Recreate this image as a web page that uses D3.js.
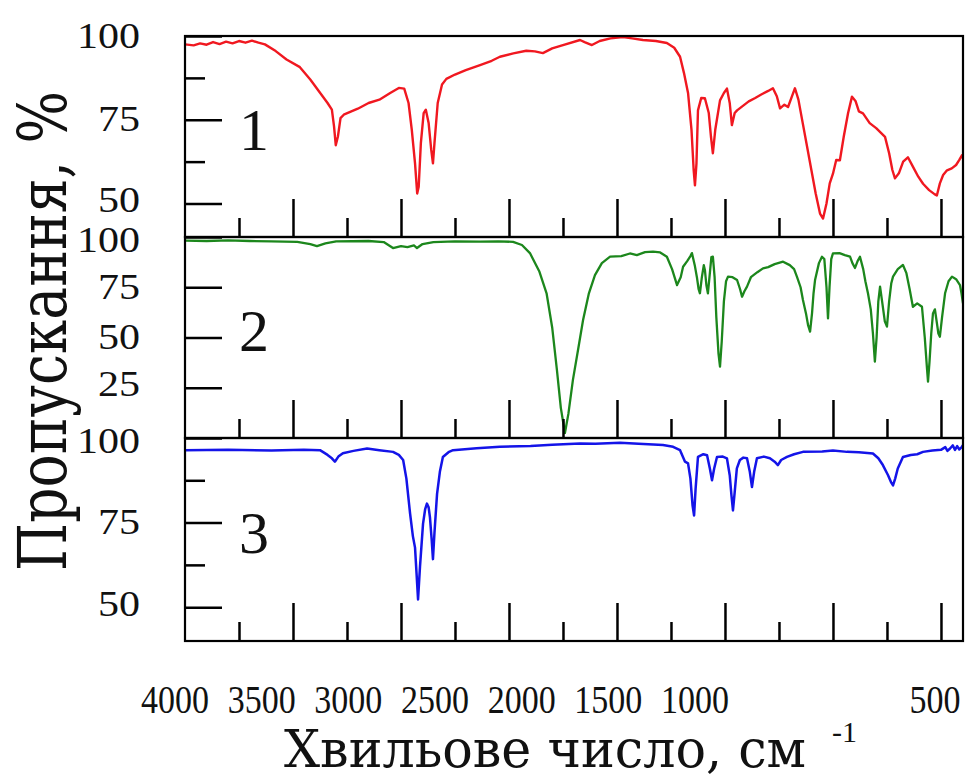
<!DOCTYPE html>
<html><head><meta charset="utf-8">
<script src="https://cdn.jsdelivr.net/npm/d3@7"></script>
<style>html,body{margin:0;padding:0;background:#fff;}</style>
</head><body><div id="chart"></div>
<script>
// ---------- DATA ----------
const redWavenumber = [4000,3960,3930,3900,3870,3840,3810,3780,3750,3720,3690,3660,3630,3580,3530,3468,3420,3380,3340,3320,3310,3302,3292,3280,3265,3200,3150,3100,3050,3010,2985,2965,2950,2935,2925,2918,2908,2895,2885,2872,2860,2852,2845,2830,2810,2790,2750,2700,2634,2580,2542,2480,2420,2380,2343,2300,2250,2171,2150,2116,2080,2030,1972,1930,1880,1820,1769,1735,1708,1690,1671,1655,1645,1639,1632,1625,1610,1593,1575,1565,1556,1545,1523,1505,1491,1478,1468,1455,1444,1420,1390,1360,1330,1300,1278,1260,1245,1225,1208,1190,1176,1160,1140,1120,1100,1080,1060,1046,1030,1015,1000,985,968,950,930,912,895,880,861,830,800,759,740,725,713,695,675,653,630,605,583,555,530,519,505,490,472,450,430,415,403,398];
const redTransmittance = [97.5,97.2,97.8,97.4,98.2,97.6,98.3,97.8,98.5,98.0,98.6,98.0,97.5,95.5,93.0,90.7,87.0,83.5,80.0,78.0,73,67.4,70,75.5,76.5,78.3,80,81.0,83.0,84.5,84.3,80,72,62,53,55,68,77,78,74,66,62,68,80,85.5,87.2,88.5,89.8,91.3,92.6,93.8,94.8,95.6,95.4,94.9,96.3,97.3,98.8,98.2,97.3,98.5,99.3,99.7,99.3,98.8,98.5,97.9,96.5,93.8,89,83,72,60,55.4,62,77.8,81.5,81.4,77,70,65,72,80.8,83,84.3,80,73.4,77,77.8,79,80.5,81.5,82.6,83.6,84.4,82,78.4,79.5,78.8,82,84.4,81,74,67,60,53,47,45.5,50,56,58.9,63,62.9,70,77,81.9,80.5,77.5,76.9,74,72.5,69.9,65,60,57.5,59,62.5,63.8,61,58,55.9,54,52.8,52.4,56,58.5,59.9,60.5,61.5,63,64.4,63.5];

const greenWavenumber = [4000,3900,3800,3700,3600,3480,3420,3389,3350,3300,3150,3080,3037,3000,2970,2940,2926,2900,2850,2750,2634,2550,2481,2440,2403,2360,2326,2300,2278,2260,2241,2225,2204,2180,2157,2130,2102,2070,2032,1980,1940,1908,1870,1833,1800,1769,1745,1722,1705,1694,1675,1660,1653,1640,1630,1622,1616,1607,1598,1593,1586,1579,1570,1563,1556,1548,1540,1530,1523,1515,1505,1495,1486,1465,1444,1430,1421,1410,1398,1380,1350,1324,1300,1270,1231,1200,1180,1167,1150,1139,1125,1115,1106,1097,1090,1083,1065,1051,1040,1030,1023,1016,1008,1000,970,945,921,910,898,886,875,860,850,838,825,815,806,798,790,782,770,760,750,740,730,722,700,676,660,645,630,610,588,575,565,560,553,545,537,528,520,512,505,495,481,465,449,430,412,405,398];
const greenTransmittance = [98.2,98.0,98.3,98.0,97.8,97.6,96.5,95.5,96.8,97.8,98.0,97.5,94.5,95.5,95.0,95.8,94.5,96.5,97.5,97.8,97.7,97.8,97.6,96.0,92,83,72,55,33.8,15,2.5,12,28.9,44,58.7,72,81,87,90.2,90.5,91.8,91,92.5,92.7,92.3,90.2,84,76.1,80,85.2,88,90.5,92,86,80,74,72,80,86,83.6,76,72,82,90,90.2,80,60,42,35.5,48,68,78,80.3,80,78.6,74,70.3,73,75.3,80,82.5,84.4,85,86.5,87.7,86,84,80.3,75,68.7,62,56,52.9,62,72,78.6,87,90.2,89,75,59.5,75,89,91.9,92,91,90.2,87,84.6,88,90.2,84,78,72,64,52,38,50,68,75.3,66,58,55.4,68,77,80.3,84,86.1,82,74,65.3,67,65.3,50,35,28,38,52,62,64,58,52,50.4,60,72,78,80.3,79,76.1,72,67];

const blueWavenumber = [4000,3800,3600,3450,3375,3340,3320,3306,3290,3269,3220,3157,3100,3037,3010,2990,2975,2958,2945,2935,2928,2921,2912,2898,2888,2880,2872,2866,2858,2852,2845,2833,2820,2806,2780,2759,2650,2542,2400,2300,2171,2100,1986,1900,1787,1740,1708,1685,1671,1660,1650,1643,1636,1625,1600,1583,1570,1560,1550,1537,1510,1491,1478,1470,1463,1455,1445,1431,1415,1398,1385,1375,1365,1352,1320,1292,1270,1255,1240,1213,1180,1139,1050,1000,935,880,815,790,769,745,730,722,712,700,676,640,610,583,540,500,480,470,458,445,435,425,415,403,398];
const blueTransmittance = [96.4,96.5,96.3,96.5,96.4,95,94,93,94.5,95.5,96.2,96.9,96.4,95.9,95,93.5,88,77.7,71,67.6,60,52.3,62,74.6,79,80.6,79.5,76.6,70,64.2,72,83.5,90,94.4,95.8,96.4,97.0,97.4,97.6,98.0,98.4,98.3,98.6,98.3,97.9,97.4,96.4,93,92.5,88,80,77.1,85,94.4,95.2,94.9,91,87.5,91,94.4,94.5,94,89,83,78.6,84,91,93.5,94.2,94,90,85.5,90,94,94.5,94,93,92,93.5,94.4,95.2,95.9,96,96.3,95.9,95.8,95.4,94,92,89,86.8,86,88,91,94.4,95,95.2,95.9,96.3,96.5,97.3,96.2,96.9,97.8,96.5,97.6,96.6,97.4,97.9];

const panelLabels = ["1", "2", "3"];
const yMajorTicks1 = [100, 75, 50];
const yMinorTicks1 = [87.5, 62.5];
const yMajorTicks2 = [100, 75, 50, 25];
const yMajorTicks3 = [100, 75, 50];
const yMinorTicks3 = [87.5, 62.5];
const xMajorTicks = [3500, 3000, 2500, 2000, 1500, 1000, 500];
const xMinorTicks = [3750, 3250, 2750, 2250, 1750, 1250, 750];
const xTickLabels = [4000, 3500, 3000, 2500, 2000, 1500, 1000, 500];
const xTitle = "Хвильове число, см";
const xTitleSup = "-1";
const yTitle = "Пропускання, %";

// ---------- DRAW ----------
const W = 979, H = 781;
const FONT = "'Liberation Serif','DejaVu Serif Condensed','DejaVu Serif',serif";
const CYR_FONT = "'DejaVu Serif Condensed','DejaVu Serif','Liberation Serif',serif";
const svg = d3.select("#chart").append("svg")
  .attr("width", W).attr("height", H)
  .style("font-family", FONT);

const left = 185, right = 963;
const x = d3.scaleLinear().domain([4000, 398]).range([left, right]);

const panels = [
  {top: 36, bottom: 237, domain: [40, 100], major: yMajorTicks1, minor: yMinorTicks1,
   wn: redWavenumber, t: redTransmittance, color: "#f01820", label: panelLabels[0], width: 2.4},
  {top: 237, bottom: 438, domain: [0, 100], major: yMajorTicks2, minor: [],
   wn: greenWavenumber, t: greenTransmittance, color: "#1c871c", label: panelLabels[1], width: 2.3},
  {top: 438, bottom: 641, domain: [40, 100], major: yMajorTicks3, minor: yMinorTicks3,
   wn: blueWavenumber, t: blueTransmittance, color: "#1414e8", label: panelLabels[2], width: 2.5}
];

panels.forEach((p, i) => {
  const y = d3.scaleLinear().domain(p.domain).range([p.bottom, p.top]);
  const g = svg.append("g");

  const clipId = "clip" + i;
  svg.append("clipPath").attr("id", clipId).append("rect")
    .attr("x", left).attr("y", p.top).attr("width", right - left).attr("height", p.bottom - p.top);

  const pts = p.wn.map((w, k) => [w, p.t[k]]);
  g.append("path").datum(pts)
    .attr("clip-path", `url(#${clipId})`)
    .attr("fill", "none").attr("stroke", p.color)
    .attr("stroke-width", p.width).attr("stroke-linejoin", "round")
    .attr("d", d3.line().x(d => x(d[0])).y(d => y(d[1])));

  // left major ticks with labels
  const ya = g.append("g").attr("transform", `translate(${left},0)`)
    .call(d3.axisLeft(y).tickValues(p.major).tickSizeInner(-37).tickSizeOuter(0).tickPadding(45));
  ya.select(".domain").remove();
  ya.selectAll("line").attr("stroke", "#000").attr("stroke-width", 2.5);
  const lowest = d3.min(p.major);
  ya.selectAll("text").attr("font-size", 35).attr("font-family", FONT).attr("fill", "#111")
    .attr("textLength", d => String(d).length * 21).attr("lengthAdjust", "spacingAndGlyphs")
    .attr("y", d => (d === 100 && i > 0) ? 3 : (d === lowest ? -3 : 0));

  if (p.minor.length) {
    const ym = g.append("g").attr("transform", `translate(${left},0)`)
      .call(d3.axisLeft(y).tickValues(p.minor).tickSizeInner(-20).tickSizeOuter(0).tickFormat(""));
    ym.select(".domain").remove();
    ym.selectAll("line").attr("stroke", "#000").attr("stroke-width", 2.5);
  }

  // bottom ticks (inward)
  const xa = g.append("g").attr("transform", `translate(0,${p.bottom})`)
    .call(d3.axisBottom(x).tickValues(xMajorTicks).tickSizeInner(-38).tickSizeOuter(0).tickFormat(""));
  xa.select(".domain").remove();
  xa.selectAll("line").attr("stroke", "#000").attr("stroke-width", 2.5);
  const xm = g.append("g").attr("transform", `translate(0,${p.bottom})`)
    .call(d3.axisBottom(x).tickValues(xMinorTicks).tickSizeInner(-19).tickSizeOuter(0).tickFormat(""));
  xm.select(".domain").remove();
  xm.selectAll("line").attr("stroke", "#000").attr("stroke-width", 2.5);

  // frame
  g.append("rect").attr("x", left).attr("y", p.top)
    .attr("width", right - left).attr("height", p.bottom - p.top)
    .attr("fill", "none").attr("stroke", "#000").attr("stroke-width", 2.2);

  // panel number
  g.append("text").attr("x", 254).attr("y", (p.top + p.bottom) / 2 - 8)
    .attr("text-anchor", "middle").attr("dy", "0.35em")
    .attr("font-size", 60).attr("fill", "#111").text(p.label);
});

// x tick labels (a compressed text row as in the original figure)
const labelScale = d3.scaleLinear().domain([4000, 1000]).range([175, 695]);
svg.append("g").selectAll("text").data(xTickLabels).join("text")
  .attr("x", d => d >= 1000 ? labelScale(d) : x(d) - 6)
  .attr("y", 713)
  .attr("text-anchor", "middle")
  .attr("font-size", 40).attr("fill", "#111")
  .attr("textLength", d => String(d).length * 17)
  .attr("lengthAdjust", "spacingAndGlyphs")
  .text(d => d);

// x title
svg.append("text").attr("x", 545).attr("y", 767)
  .attr("text-anchor", "middle").attr("font-size", 52).attr("fill", "#111")
  .attr("font-family", CYR_FONT)
  .attr("textLength", 522).attr("lengthAdjust", "spacingAndGlyphs")
  .text(xTitle);
svg.append("text").attr("x", 832).attr("y", 742).attr("font-size", 30).attr("fill", "#111").text(xTitleSup);

// y title
svg.append("text")
  .attr("transform", "translate(66,331) rotate(-90)")
  .attr("text-anchor", "middle").attr("font-size", 68).attr("fill", "#111")
  .attr("font-family", CYR_FONT)
  .attr("textLength", 480).attr("lengthAdjust", "spacingAndGlyphs")
  .text(yTitle);
</script></body></html>
